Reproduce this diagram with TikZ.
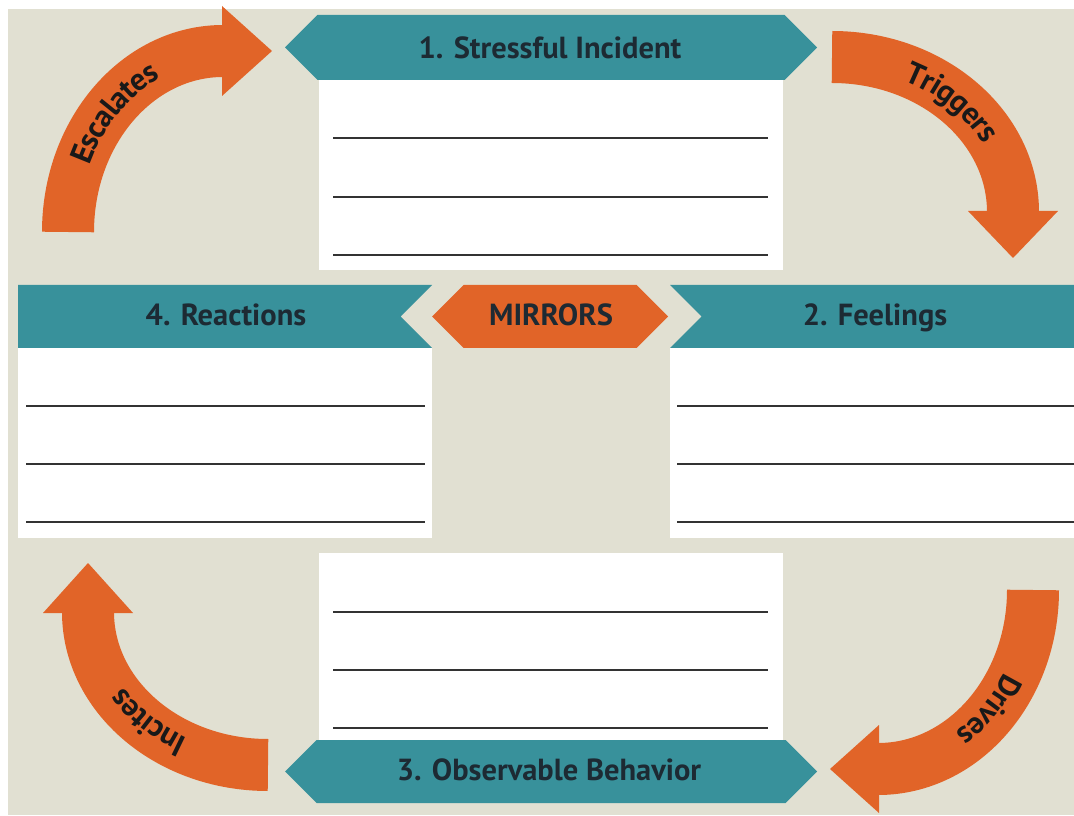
\documentclass[tikz,border=0pt]{standalone}
\usepackage{fontspec}
\setmainfont{PT Sans}
\usetikzlibrary{decorations.text}
\definecolor{bgbeige}{HTML}{E1E0D2}
\definecolor{hdteal}{HTML}{38919B}
\definecolor{arrorange}{HTML}{E16428}
\definecolor{inkdark}{HTML}{1D2A33}
\begin{document}
\begin{tikzpicture}[x=1pt,y=1pt,
  hdtext/.style={font=\fontsize{30.5}{36}\selectfont\bfseries, text=inkdark, anchor=base, inner sep=0pt},
  panel/.style={fill=white},
  banner/.style={fill=hdteal},
  writeline/.style={draw=black!80, line width=1.5pt},
  band/.style={draw=arrorange, line width=52pt},
  tip/.style={fill=arrorange},
  arrowword/.style={decorate, decoration={text along path, text align=center, raise=-10pt,
    text={|\fontsize{31}{36}\selectfont\bfseries\color{black!90}|#1}}}
]
% canvas
\useasboundingbox (0,0) rectangle (1074,815);
\fill[white] (0,0) rectangle (1074,815);
\fill[bgbeige] (8,0) rectangle (1074,806);

% ---- 1. Stressful Incident (top) ----
\fill[panel] (319,545) rectangle (783,735);
\foreach \yy in {677,618,560} \draw[writeline] (333,\yy) -- (768,\yy);
\fill[banner] (285,767.5) -- (317.5,800) -- (784.5,800) -- (817,767.5) -- (784.5,735) -- (317.5,735) -- cycle;
\node[hdtext] (incident) at (550,756) {1. Stressful Incident};

% ---- 4. Reactions (left) ----
\fill[panel] (18,277) rectangle (432,467);
\foreach \yy in {409,351,293} \draw[writeline] (26,\yy) -- (425,\yy);
\fill[banner] (18,530) -- (432,530) -- (400.5,498.5) -- (432,467) -- (18,467) -- cycle;
\node[hdtext] (reactions) at (226,489) {4. Reactions};

% ---- MIRRORS (centre) ----
\fill[arrorange] (432,498.5) -- (463.5,530) -- (636.5,530) -- (668,498.5) -- (636.5,467) -- (463.5,467) -- cycle;
\node[hdtext] (mirrors) at (551,489) {MIRRORS};

% ---- 2. Feelings (right) ----
\fill[panel] (670,277) rectangle (1074,467);
\foreach \yy in {409,351,293} \draw[writeline] (677,\yy) -- (1074,\yy);
\fill[banner] (670,530) -- (1074,530) -- (1074,467) -- (670,467) -- (701.5,498.5) -- cycle;
\node[hdtext] (feelings) at (875,489) {2. Feelings};

% ---- 3. Observable Behavior (bottom) ----
\fill[panel] (319,75) rectangle (783,262);
\foreach \yy in {203,145,87} \draw[writeline] (333,\yy) -- (768,\yy);
\fill[banner] (285,43.5) -- (316.5,75) -- (785.5,75) -- (817,43.5) -- (785.5,12) -- (316.5,12) -- cycle;
\node[hdtext] (behavior) at (549,35) {3. Observable Behavior};

% ---- curved arrows ----
% Escalates: from Reactions up to Stressful Incident
\draw[band] (68,583) arc[start angle=180, end angle=90, x radius=155, y radius=181];
\fill[tip] (222,809) -- (272,764) -- (222,719) -- cycle;
\path[arrowword=Escalates] (68,583) arc[start angle=180, end angle=90, x radius=155, y radius=181];

% Triggers: from Stressful Incident down to Feelings
\draw[band] (832,758) arc[start angle=90, end angle=0, x radius=181, y radius=155];
\fill[tip] (968,604) -- (1013,557) -- (1058,604) -- cycle;
\path[arrowword=Triggers] (832,758) arc[start angle=90, end angle=0, x radius=181, y radius=155];

% Drives: from Feelings down to Observable Behavior
\draw[band] (1033,225) arc[start angle=0, end angle=-90, x radius=155, y radius=179];
\fill[tip] (879,90) -- (830,46) -- (879,2) -- cycle;
\path[arrowword=Drives] (1033,225) arc[start angle=0, end angle=-90, x radius=155, y radius=179];

% Incites: from Observable Behavior up to Reactions
\draw[band] (268,50) arc[start angle=270, end angle=180, x radius=180, y radius=153];
\fill[tip] (43,202) -- (88,252) -- (133,202) -- cycle;
\path[arrowword=Incites] (268,50) arc[start angle=270, end angle=180, x radius=180, y radius=153];
\end{tikzpicture}
\end{document}
